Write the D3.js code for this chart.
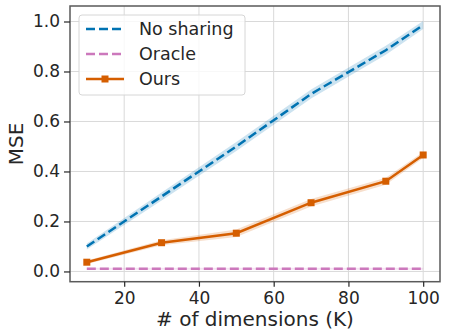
<!DOCTYPE html>
<html>
<head>
<meta charset="utf-8">
<script src="https://cdn.jsdelivr.net/npm/d3@7"></script>
<style>
  body { margin: 0; background: #fff; }
  svg { font-family: "DejaVu Sans", sans-serif; }
</style>
</head>
<body>
<svg id="chart" width="449" height="336"></svg>
<script>
// values
const dims = [10, 30, 50, 70, 90, 100];
const noSharing = [0.100, 0.300, 0.500, 0.710, 0.885, 0.986];
const noSharingErr = [0.012, 0.016, 0.018, 0.018, 0.018, 0.016];
const oracle = [0.011, 0.011, 0.011, 0.011, 0.011, 0.011];
const oracleErr = [0.004, 0.004, 0.004, 0.004, 0.004, 0.004];
const ours = [0.037, 0.115, 0.153, 0.275, 0.361, 0.466];
const oursErr = [0.007, 0.010, 0.015, 0.015, 0.014, 0.012];
const xTicks = [20, 40, 60, 80, 100];
const yTicks = [0.0, 0.2, 0.4, 0.6, 0.8, 1.0];

const svg = d3.select('#chart');
const margin = { top: 6, right: 9, bottom: 54.3, left: 70 };
const width = +svg.attr('width');
const height = +svg.attr('height');

const x = d3.scaleLinear()
    .domain([5.5, 104.5])
    .range([margin.left, width - margin.right]);

const y = d3.scaleLinear()
    .domain([-0.041, 1.062])
    .range([height - margin.bottom, margin.top]);

const textColor = '#262626';

// grid
svg.append('g')
    .selectAll('line.gx')
    .data(xTicks)
    .enter().append('line')
    .attr('x1', d => x(d)).attr('x2', d => x(d))
    .attr('y1', margin.top).attr('y2', height - margin.bottom)
    .attr('stroke', '#d9d9d9').attr('stroke-width', 1);

svg.append('g')
    .selectAll('line.gy')
    .data(yTicks)
    .enter().append('line')
    .attr('y1', d => y(d)).attr('y2', d => y(d))
    .attr('x1', margin.left).attr('x2', width - margin.right)
    .attr('stroke', '#d9d9d9').attr('stroke-width', 1);

const series = [
    { name: 'No sharing', values: noSharing, err: noSharingErr, color: '#0173b2', dash: '9,4', marker: false },
    { name: 'Oracle', values: oracle, err: oracleErr, color: '#cc78bc', dash: '9,4', marker: false },
    { name: 'Ours', values: ours, err: oursErr, color: '#d55e00', dash: null, marker: true }
];

const area = d3.area()
    .x(d => x(d.x))
    .y0(d => y(d.v - d.e))
    .y1(d => y(d.v + d.e));

const line = d3.line()
    .x(d => x(d.x))
    .y(d => y(d.v));

series.forEach(s => {
    const pts = dims.map((k, i) => ({ x: k, v: s.values[i], e: s.err[i] }));

    svg.append('path')
        .datum(pts)
        .attr('d', area)
        .attr('fill', s.color)
        .attr('fill-opacity', 0.2);

    svg.append('path')
        .datum(pts)
        .attr('d', line)
        .attr('fill', 'none')
        .attr('stroke', s.color)
        .attr('stroke-width', 2.5)
        .attr('stroke-dasharray', s.dash);

    if (s.marker) {
        svg.selectAll(null)
            .data(pts)
            .enter().append('rect')
            .attr('x', d => x(d.x) - 3.5)
            .attr('y', d => y(d.v) - 3.5)
            .attr('width', 7)
            .attr('height', 7)
            .attr('fill', s.color);
    }
});

// frame
svg.append('rect')
    .attr('x', margin.left)
    .attr('y', margin.top)
    .attr('width', width - margin.left - margin.right)
    .attr('height', height - margin.top - margin.bottom)
    .attr('fill', 'none')
    .attr('stroke', '#5a5a5a')
    .attr('stroke-width', 1.5);

// axes
const xAxis = svg.append('g')
    .attr('transform', `translate(0, ${height - margin.bottom})`)
    .call(d3.axisBottom(x).tickValues(xTicks).tickSize(5).tickPadding(5).tickFormat(d3.format('d')));

const yAxis = svg.append('g')
    .attr('transform', `translate(${margin.left}, 0)`)
    .call(d3.axisLeft(y).tickValues(yTicks).tickSize(6).tickPadding(4).tickFormat(d3.format('.1f')));

[xAxis, yAxis].forEach(a => {
    a.select('.domain').remove();
    a.selectAll('.tick line').attr('stroke', textColor).attr('stroke-width', 1.2);
    a.selectAll('.tick text')
        .attr('fill', textColor)
        .style('font-size', '17px')
        .style('font-family', '"DejaVu Sans", sans-serif');
});

// axis labels
svg.append('text')
    .attr('x', (margin.left + width - margin.right) / 2)
    .attr('y', 326)
    .attr('text-anchor', 'middle')
    .attr('fill', textColor)
    .style('font-size', '20px')
    .text('# of dimensions (K)');

svg.append('text')
    .attr('transform', `translate(23, ${(margin.top + height - margin.bottom) / 2}) rotate(-90)`)
    .attr('text-anchor', 'middle')
    .attr('fill', textColor)
    .style('font-size', '20px')
    .text('MSE');

// legend
const legend = svg.append('g').attr('transform', 'translate(79, 15)');

legend.append('rect')
    .attr('width', 166)
    .attr('height', 80)
    .attr('rx', 3)
    .attr('fill', '#fff')
    .attr('fill-opacity', 0.8)
    .attr('stroke', '#d6d6d6')
    .attr('stroke-width', 1);

series.forEach((s, i) => {
    const ly = 14 + i * 25;
    legend.append('line')
        .attr('x1', 7).attr('x2', 45)
        .attr('y1', ly).attr('y2', ly)
        .attr('stroke', s.color)
        .attr('stroke-width', 2.5)
        .attr('stroke-dasharray', s.dash);
    if (s.marker) {
        legend.append('rect')
            .attr('x', 26 - 3.5).attr('y', ly - 3.5)
            .attr('width', 7).attr('height', 7)
            .attr('fill', s.color);
    }
    legend.append('text')
        .attr('x', 60)
        .attr('y', ly + 6)
        .attr('fill', textColor)
        .style('font-size', '17.5px')
        .text(s.name);
});
</script>
</body>
</html>
